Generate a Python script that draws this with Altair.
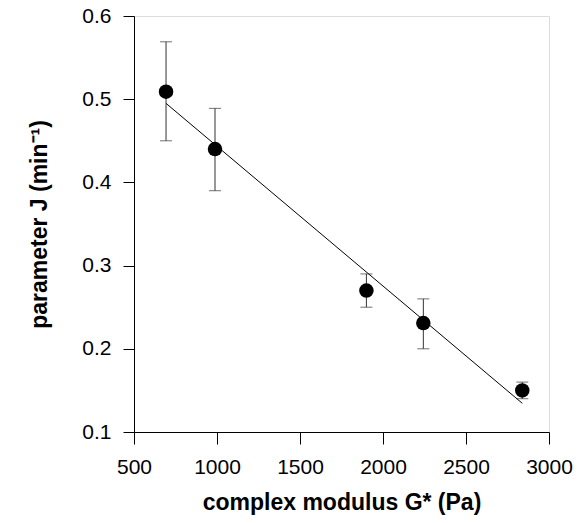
import altair as alt
import pandas as pd

g_star = [693, 988, 1900, 2243, 2839]
j_val = [0.509, 0.44, 0.27, 0.231, 0.150]
j_lo = [0.45, 0.39, 0.25, 0.20, 0.14]
j_hi = [0.569, 0.489, 0.29, 0.26, 0.16]

fit_x = [693, 2839]
fit_y = [0.495, 0.1345]

pts = pd.DataFrame({"g": g_star, "j": j_val, "lo": j_lo, "hi": j_hi})
fit = pd.DataFrame({"g": fit_x, "j": fit_y})

FONT = "Liberation Sans"

xs = alt.Scale(domain=[500, 3000], nice=False, zero=False)
ys = alt.Scale(domain=[0.1, 0.6], nice=False, zero=False)

xax = alt.Axis(values=[500, 1000, 1500, 2000, 2500, 3000], format="d", tickSize=12,
               labelPadding=12, titlePadding=14, labelFlush=False)
yax = alt.Axis(values=[0.1, 0.2, 0.3, 0.4, 0.5, 0.6], format=".1f", tickSize=11,
               labelPadding=12, titlePadding=30, labelFlush=False)

base = alt.Chart(pts)

err = base.mark_rule(color="#333333", strokeWidth=1).encode(
    x=alt.X("g:Q", scale=xs, axis=xax, title="complex modulus G* (Pa)"),
    y=alt.Y("lo:Q", scale=ys, axis=yax, title="parameter J (min⁻¹)"),
    y2="hi:Q",
)
cap_lo = base.mark_tick(color="#333333", orient="horizontal", size=12, thickness=1).encode(
    x=alt.X("g:Q", scale=xs, axis=xax), y=alt.Y("lo:Q", scale=ys, axis=yax))
cap_hi = base.mark_tick(color="#333333", orient="horizontal", size=12, thickness=1).encode(
    x=alt.X("g:Q", scale=xs, axis=xax), y=alt.Y("hi:Q", scale=ys, axis=yax))

line = alt.Chart(fit).mark_line(color="black", strokeWidth=1).encode(
    x=alt.X("g:Q", scale=xs, axis=xax), y=alt.Y("j:Q", scale=ys, axis=yax))

dots = base.mark_point(filled=True, shape="circle", size=210, color="black", opacity=1).encode(
    x=alt.X("g:Q", scale=xs, axis=xax), y=alt.Y("j:Q", scale=ys, axis=yax))

chart = alt.layer(err, cap_lo, cap_hi, line, dots).properties(
    width=415, height=416,
    autosize=alt.AutoSizeParams(type="none"),
    padding={"left": 126, "top": 8, "right": 26, "bottom": 83},
).configure_view(stroke="black", strokeWidth=1).configure(background="white").configure_axis(
    grid=False, labelFontSize=21, titleFontSize=23, titleFontWeight="bold",
    labelFont=FONT, titleFont=FONT, domainColor="black", tickColor="black",
    labelColor="black", titleColor="black", labelFontWeight="normal",
)

chart.save("out.html", embed_options={"renderer": "svg", "actions": False})
